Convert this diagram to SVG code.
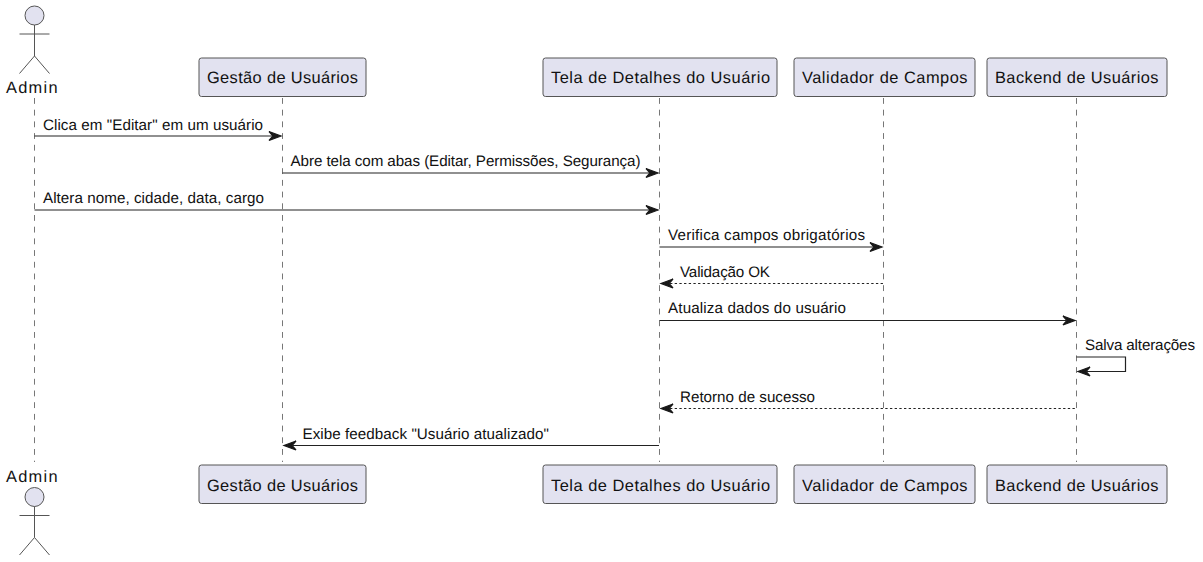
<svg xmlns="http://www.w3.org/2000/svg" width="1203" height="562" viewBox="0 0 1203 562">
<style>
text{font-family:"Liberation Sans",Arial,sans-serif;fill:#111;text-rendering:geometricPrecision}
.p{font-size:16.4px}
.m{font-size:15.2px}
.box{fill:#E2E2F0;stroke:#555;stroke-width:1}
.life{stroke:#777;stroke-width:1;stroke-dasharray:5.85,5.85;fill:none}
.a{fill:#E2E2F0;stroke:#555;stroke-width:1}
.l{stroke:#222;stroke-width:1.2;fill:none}
.d{stroke:#222;stroke-width:1.2;fill:none;stroke-dasharray:2.34,2.34}
.h{fill:#181818;stroke:#181818;stroke-width:1.2}
</style>
<defs>
<g id="actor"><circle class="a" cx="0" cy="0" r="9.5"/><path class="a" style="fill:none" d="M0,9.5V40.500M-15,18.500H15M0,40.500L-15,58M0,40.500L15,58"/></g>
</defs>
<g id="lifelines">
<path class="life" d="M34.5,98V462M282.5,98V462M659.5,98V462M883.5,98V462M1076.5,98V462"/>
</g>
<g id="connectors">
<path class="l" d="M34.5,136H272"/><polygon class="h" points="269,131.500 281,136 269,140.500 273,136"/>
<text class="m" x="43" y="130" textLength="220">Clica em "Editar" em um usuário</text>
<path class="l" d="M282.5,173H649"/><polygon class="h" points="646,168.500 658,173 646,177.500 650,173"/>
<text class="m" x="290.5" y="166" textLength="350">Abre tela com abas (Editar, Permissões, Segurança)</text>
<path class="l" d="M34.5,210H649"/><polygon class="h" points="646,205.500 658,210 646,214.500 650,210"/>
<text class="m" x="43" y="203" textLength="221">Altera nome, cidade, data, cargo</text>
<path class="l" d="M659.5,247H873"/><polygon class="h" points="870,242.500 882,247 870,251.500 874,247"/>
<text class="m" x="668" y="240" textLength="197">Verifica campos obrigatórios</text>
<path class="d" d="M670,283.500H883"/><polygon class="h" points="673,279 661,283.500 673,288 669,283.500"/>
<text class="m" x="680" y="277" textLength="90">Validação OK</text>
<path class="l" d="M659.500,320.500H1066"/><polygon class="h" points="1063,316 1075,320.500 1063,325 1067,320.500"/>
<text class="m" x="668" y="313" textLength="178">Atualiza dados do usuário</text>
<path class="l" d="M1076.500,357H1125.500V371.500H1087"/><polygon class="h" points="1090,367 1078,371.500 1090,376 1086,371.500"/>
<text class="m" x="1085" y="350" textLength="110">Salva alterações</text>
<path class="d" d="M670,408.500H1076"/><polygon class="h" points="673,404 661,408.500 673,413 669,408.500"/>
<text class="m" x="680" y="402" textLength="135">Retorno de sucesso</text>
<path class="l" d="M293,445.500H659"/><polygon class="h" points="296,441 284,445.500 296,450 292,445.500"/>
<text class="m" x="302.500" y="439" textLength="246.500">Exibe feedback "Usuário atualizado"</text>
</g>
<g id="admin-top"><use href="#actor" x="34.500" y="15.500"/><text class="p" x="6" y="93" textLength="51.500">Admin</text></g>
<g id="admin-bottom"><use href="#actor" x="34.500" y="497"/><text class="p" x="6" y="482" textLength="51.500">Admin</text></g>
<g id="gestao-top"><rect class="box" x="199" y="58" width="167" height="38.500" rx="2.500"/><text class="p" x="207" y="83" textLength="151">Gestão de Usuários</text></g>
<g id="tela-top"><rect class="box" x="543" y="58" width="234" height="38.500" rx="2.500"/><text class="p" x="551" y="83" textLength="219">Tela de Detalhes do Usuário</text></g>
<g id="validador-top"><rect class="box" x="794" y="58" width="181" height="38.500" rx="2.500"/><text class="p" x="802" y="83" textLength="165.500">Validador de Campos</text></g>
<g id="backend-top"><rect class="box" x="987" y="58" width="180" height="38.500" rx="2.500"/><text class="p" x="995" y="83" textLength="163.500">Backend de Usuários</text></g>
<g id="gestao-bottom"><rect class="box" x="199" y="465" width="167" height="38.500" rx="2.500"/><text class="p" x="207" y="491" textLength="151">Gestão de Usuários</text></g>
<g id="tela-bottom"><rect class="box" x="543" y="465" width="234" height="38.500" rx="2.500"/><text class="p" x="551" y="491" textLength="219">Tela de Detalhes do Usuário</text></g>
<g id="validador-bottom"><rect class="box" x="794" y="465" width="181" height="38.500" rx="2.500"/><text class="p" x="802" y="491" textLength="165.500">Validador de Campos</text></g>
<g id="backend-bottom"><rect class="box" x="987" y="465" width="180" height="38.500" rx="2.500"/><text class="p" x="995" y="491" textLength="163.500">Backend de Usuários</text></g>
</svg>
